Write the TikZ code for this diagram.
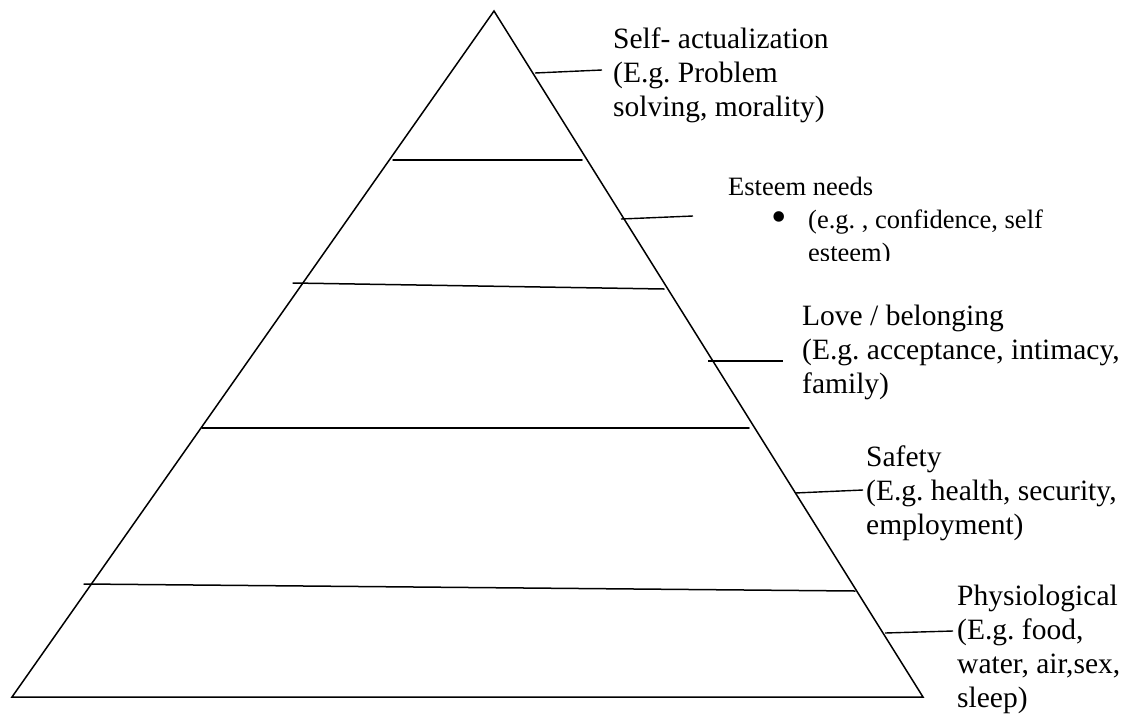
\documentclass[tikz,border=0pt]{standalone}
\usepackage{fontspec}
\setmainfont{Liberation Serif}
\frenchspacing
\begin{document}
\begin{tikzpicture}[x=1pt,y=-1pt,
  edge/.style={line width=1.5pt,line cap=round,line join=miter},
  conn/.style={line width=1.4pt},
  lbl/.style={font=\fontsize{29.5}{34}\selectfont,align=left,inner sep=0pt,anchor=base west},
  slbl/.style={font=\fontsize{26.5}{33}\selectfont,align=left,inner sep=0pt,anchor=base west}]
\useasboundingbox (0,0) rectangle (1145,715);
% pyramid
\coordinate (apex) at (494,11);
\coordinate (bl) at (12,697);
\coordinate (br) at (923,697);
\draw[edge] (apex) -- (br) -- (bl) -- cycle;
% level lines
\coordinate (l1a) at (393,160); \coordinate (l1b) at (582,160);
\coordinate (l2a) at (293,283); \coordinate (l2b) at (664,289);
\coordinate (l3a) at (202,428); \coordinate (l3b) at (749,428);
\coordinate (l4a) at (84,584);  \coordinate (l4b) at (855,591);
\draw[edge] (l1a) -- (l1b);
\draw[edge] (l2a) -- (l2b);
\draw[edge] (l3a) -- (l3b);
\draw[edge] (l4a) -- (l4b);
% connectors
\coordinate (c1a) at (535,73);  \coordinate (c1b) at (602,70);
\coordinate (c2a) at (621,219); \coordinate (c2b) at (693,216);
\coordinate (c3a) at (708,361); \coordinate (c3b) at (783,361);
\coordinate (c4a) at (795,493); \coordinate (c4b) at (863,490);
\coordinate (c5a) at (885,633); \coordinate (c5b) at (953,631);
\draw[conn] (c1a) -- (c1b);
\draw[conn] (c2a) -- (c2b);
\draw[conn] (c3a) -- (c3b);
\draw[conn] (c4a) -- (c4b);
\draw[conn] (c5a) -- (c5b);
% labels (base anchor = baseline of the last line)
\node[lbl] (self) at (613,116) {Self- actualization\\(E.g. Problem\\solving, morality)};
\node[slbl] (esteem) at (728,195) {Esteem needs};
\node[font=\fontsize{44}{44}\selectfont,inner sep=0pt,anchor=center] (bullet) at (779,222) {\textbullet};
\begin{scope}
  \clip (700,200) rectangle (1145,260);
  \node[slbl] (esteemex) at (808,261) {(e.g. , confidence, self\\esteem)};
\end{scope}
\node[lbl] (love) at (802,393) {Love / belonging\\(E.g. acceptance, intimacy,\\family)};
\node[lbl] (safety) at (866,534) {Safety\\(E.g. health, security,\\employment)};
\node[lbl] (phys) at (957,707) {Physiological\\(E.g. food,\\water, air,sex,\\sleep)};
\end{tikzpicture}
\end{document}
